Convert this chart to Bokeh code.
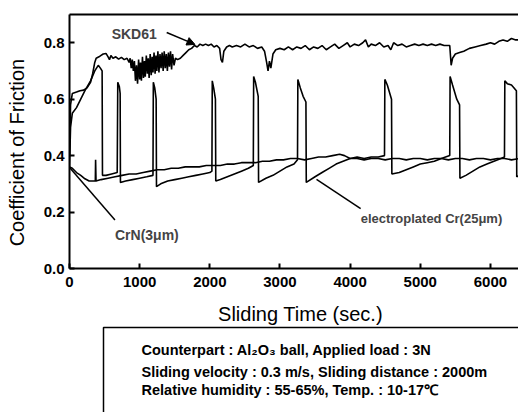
from bokeh.plotting import figure
from bokeh.models import (Range1d, FixedTicker, PrintfTickFormatter, Label, Arrow,
                          NormalHead, LinearAxis)
from bokeh.layouts import column
from bokeh.embed import file_html
from bokeh.resources import INLINE
from bokeh.core.properties import value

FONT = "Liberation Sans"

# ---------------- data ----------------
x_ticks = [0, 1000, 2000, 3000, 4000, 5000, 6000]
y_ticks = [0.0, 0.2, 0.4, 0.6, 0.8]

t_skd = [0, 15, 40, 100, 150, 200, 250, 300, 330, 360,
         380, 420, 450, 480, 520, 550, 570, 590, 620, 660,
         700, 740, 780, 820, 850, 865, 880, 895, 910, 925,
         940, 955, 970, 985, 1000, 1012, 1025, 1040, 1055, 1068,
         1080, 1095, 1110, 1122, 1135, 1150, 1165, 1178, 1190, 1205,
         1220, 1232, 1245, 1260, 1275, 1290, 1305, 1320, 1335, 1350,
         1365, 1380, 1395, 1410, 1425, 1440, 1455, 1470, 1490, 1510,
         1540, 1580, 1620, 1660, 1700, 1740, 1780, 1820, 1860, 1900,
         1940, 1980, 2020, 2060, 2100, 2140, 2160, 2180, 2200, 2240,
         2280, 2320, 2380, 2440, 2500, 2560, 2620, 2680, 2740, 2780,
         2810, 2830, 2850, 2870, 2900, 2940, 3000, 3060, 3120, 3180,
         3240, 3300, 3360, 3420, 3480, 3540, 3600, 3660, 3720, 3780,
         3840, 3900, 3960, 4000, 4060, 4120, 4180, 4220, 4260, 4300,
         4360, 4420, 4480, 4540, 4580, 4620, 4680, 4740, 4800, 4860,
         4920, 4980, 5040, 5100, 5160, 5220, 5280, 5340, 5420, 5440,
         5460, 5500, 5560, 5620, 5700, 5780, 5860, 5940, 6000, 6060,
         6120, 6180, 6240, 6300, 6360, 6420]
mu_skd = [0.40, 0.58, 0.62, 0.625, 0.63, 0.632, 0.64, 0.66, 0.69, 0.73,
          0.745, 0.75, 0.755, 0.76, 0.762, 0.75, 0.74, 0.755, 0.745, 0.75,
          0.742, 0.748, 0.74, 0.745, 0.73, 0.745, 0.71, 0.74, 0.70, 0.735,
          0.665, 0.72, 0.655, 0.74, 0.67, 0.73, 0.665, 0.75, 0.675, 0.735,
          0.68, 0.755, 0.69, 0.745, 0.675, 0.76, 0.685, 0.75, 0.695, 0.765,
          0.69, 0.755, 0.70, 0.77, 0.695, 0.76, 0.71, 0.765, 0.70, 0.77,
          0.71, 0.76, 0.70, 0.765, 0.715, 0.77, 0.705, 0.76, 0.72, 0.745,
          0.74, 0.745, 0.755, 0.765, 0.775, 0.78, 0.79, 0.785, 0.795, 0.79,
          0.795, 0.79, 0.795, 0.785, 0.79, 0.78, 0.74, 0.73, 0.77, 0.785,
          0.79, 0.785, 0.79, 0.785, 0.795, 0.785, 0.79, 0.78, 0.785, 0.77,
          0.73, 0.70, 0.735, 0.71, 0.76, 0.775, 0.78, 0.775, 0.785, 0.775,
          0.785, 0.78, 0.79, 0.775, 0.785, 0.78, 0.79, 0.775, 0.785, 0.795,
          0.78, 0.79, 0.80, 0.785, 0.795, 0.79, 0.80, 0.81, 0.785, 0.795,
          0.79, 0.80, 0.785, 0.79, 0.775, 0.80, 0.79, 0.795, 0.785, 0.79,
          0.795, 0.79, 0.795, 0.79, 0.795, 0.79, 0.795, 0.79, 0.79, 0.72,
          0.745, 0.76, 0.765, 0.77, 0.78, 0.785, 0.79, 0.795, 0.80, 0.795,
          0.805, 0.81, 0.805, 0.815, 0.81, 0.81]

t_cr = [0, 15, 40, 100, 160, 220, 300, 360, 410, 440,
        465, 470, 520, 600, 680, 688, 710, 722, 726, 800,
        900, 1000, 1100, 1190, 1195, 1215, 1235, 1240, 1300, 1400,
        1500, 1600, 1700, 1800, 1900, 2000, 2030, 2035, 2055, 2080,
        2085, 2150, 2250, 2350, 2450, 2550, 2620, 2625, 2650, 2690,
        2695, 2800, 2900, 3000, 3100, 3200, 3250, 3255, 3290, 3330,
        3370, 3375, 3500, 3600, 3700, 3800, 3900, 4000, 4100, 4200,
        4300, 4400, 4490, 4495, 4530, 4590, 4595, 4700, 4800, 4900,
        5000, 5100, 5200, 5300, 5420, 5425, 5460, 5520, 5560, 5565,
        5650, 5750, 5850, 5950, 6050, 6150, 6200, 6205, 6240, 6300,
        6370, 6375, 6420]
mu_cr = [0.36, 0.50, 0.55, 0.57, 0.60, 0.63, 0.665, 0.70, 0.72, 0.71,
         0.70, 0.33, 0.33, 0.335, 0.34, 0.66, 0.645, 0.62, 0.305, 0.31,
         0.315, 0.32, 0.325, 0.33, 0.66, 0.64, 0.60, 0.29, 0.30, 0.31,
         0.315, 0.32, 0.325, 0.33, 0.335, 0.34, 0.345, 0.665, 0.64, 0.60,
         0.31, 0.315, 0.325, 0.335, 0.345, 0.355, 0.365, 0.68, 0.66, 0.61,
         0.305, 0.32, 0.33, 0.345, 0.36, 0.37, 0.385, 0.67, 0.64, 0.61,
         0.59, 0.305, 0.325, 0.34, 0.355, 0.37, 0.38, 0.39, 0.395, 0.39,
         0.395, 0.395, 0.40, 0.67, 0.65, 0.60, 0.335, 0.34, 0.35, 0.36,
         0.37, 0.375, 0.38, 0.39, 0.40, 0.68, 0.65, 0.60, 0.58, 0.32,
         0.33, 0.345, 0.36, 0.37, 0.38, 0.39, 0.395, 0.665, 0.655, 0.65,
         0.63, 0.325, 0.33]

t_crn = [0, 40, 100, 160, 220, 280, 340, 368, 372, 378,
         450, 550, 650, 750, 850, 950, 1050, 1150, 1250, 1350,
         1450, 1550, 1650, 1750, 1850, 1950, 2050, 2150, 2250, 2350,
         2450, 2550, 2650, 2750, 2850, 2950, 3050, 3150, 3250, 3350,
         3450, 3550, 3650, 3750, 3850, 3920, 4000, 4100, 4200, 4300,
         4400, 4500, 4600, 4700, 4800, 4900, 5000, 5100, 5200, 5300,
         5400, 5500, 5600, 5700, 5800, 5900, 6000, 6100, 6200, 6300,
         6420]
mu_crn = [0.36, 0.355, 0.34, 0.33, 0.318, 0.31, 0.31, 0.31, 0.385, 0.31,
          0.315, 0.32, 0.325, 0.33, 0.335, 0.335, 0.34, 0.345, 0.35, 0.35,
          0.355, 0.355, 0.36, 0.36, 0.36, 0.365, 0.365, 0.365, 0.37, 0.37,
          0.375, 0.375, 0.375, 0.38, 0.38, 0.385, 0.385, 0.39, 0.39, 0.385,
          0.39, 0.395, 0.395, 0.40, 0.405, 0.40, 0.39, 0.39, 0.385, 0.39,
          0.39, 0.385, 0.39, 0.39, 0.385, 0.39, 0.39, 0.385, 0.39, 0.39,
          0.385, 0.39, 0.39, 0.385, 0.39, 0.39, 0.385, 0.39, 0.39, 0.385,
          0.39]

notes = ["Counterpart : Al\u2082O\u2083 ball, Applied load : 3N",
         "Sliding velocity : 0.3 m/s, Sliding distance : 2000m",
         "Relative humidity : 55-65%, Temp. : 10-17\u2103"]

# ---------------- main plot ----------------
p = figure(width=518, height=300, x_range=Range1d(0, 6400), y_range=Range1d(0, 0.9),
           output_backend="svg", toolbar_location=None,
           min_border_left=69, min_border_right=0, min_border_top=14,
           min_border_bottom=32)
p.outline_line_color = None
p.xgrid.visible = False
p.ygrid.visible = False
p.background_fill_color = "white"
p.border_fill_color = "white"

xa = p.below[0]
ya = p.left[0]
for ax in (xa, ya):
    ax.axis_line_width = 2
    ax.axis_line_color = "black"
    ax.major_tick_line_width = 2
    ax.major_tick_in = 5
    ax.major_tick_out = 0
    ax.minor_tick_line_color = None
    ax.major_label_text_font = FONT
    ax.major_label_text_font_style = "bold"
    ax.major_label_text_font_size = "15px"
    ax.major_label_text_color = "black"
xa.ticker = FixedTicker(ticks=x_ticks)
ya.ticker = FixedTicker(ticks=y_ticks)
ya.formatter = PrintfTickFormatter(format="%.1f")
xa.major_label_standoff = 8
ya.major_label_standoff = 5
ya.axis_label = "Coefficient of Friction\u00a0\u00a0\u00a0\u00a0"
ya.axis_label_text_font = FONT
ya.axis_label_text_font_style = "normal"
ya.axis_label_text_font_size = "20px"
ya.axis_label_standoff = 13
ya.axis_label_text_color = "black"

top_axis = LinearAxis(ticker=FixedTicker(ticks=[]), axis_line_width=2,
                      axis_line_color="black", major_label_text_font_size="0px",
                      major_tick_line_color=None, minor_tick_line_color=None)
p.add_layout(top_axis, "above")

for tt, mm in ((t_skd, mu_skd), (t_cr, mu_cr), (t_crn, mu_crn)):
    p.line(tt, mm, line_color="black", line_width=1.6)

p.add_layout(Label(x=601, y=0.832, text="SKD61", text_align="left", text_baseline="middle",
                   text_font=FONT, text_font_size="14px", text_font_style="bold"))
p.add_layout(Arrow(end=NormalHead(size=8, fill_color="black", line_color="black"),
                   x_start=1385, y_start=0.836, x_end=1788, y_end=0.794,
                   line_width=1.5, line_color="black"))

p.add_layout(Label(x=648, y=0.118, text="CrN(3\u03bcm)", text_align="left",
                   text_baseline="middle", text_font=FONT, text_font_size="14px",
                   text_font_style="bold"))
p.segment(x0=[7], y0=[0.356], x1=[648], y1=[0.172], line_color="black", line_width=1.5)

p.add_layout(Label(x=4150, y=0.178, text="electroplated Cr(25\u03bcm)", text_align="left",
                   text_baseline="middle", text_font=FONT, text_font_size="13px",
                   text_font_style="bold"))
p.segment(x0=[3521], y0=[0.316], x1=[4150], y1=[0.212], line_color="black", line_width=1.5)

# ---------------- x label + conditions box (pixel coordinates) ----------------
p2 = figure(width=518, height=112, x_range=Range1d(69, 518), y_range=Range1d(112, 0),
            output_backend="svg", toolbar_location=None, x_axis_type=None,
            y_axis_type=None, min_border_left=69, min_border_right=0,
            min_border_top=0, min_border_bottom=0)
p2.outline_line_color = None
p2.xgrid.visible = False
p2.ygrid.visible = False
p2.text(x=[300], y=[13], text=["Sliding Time (sec.)"], text_font=value(FONT),
        text_font_size="20px", text_align="center", text_baseline="middle",
        text_color="black")
p2.quad(left=[103], right=[700], top=[27], bottom=[300], fill_color=None,
        line_color="black", line_width=1.5)
p2.text(x=[141, 141, 141], y=[49, 71, 89.5], text=notes, text_font=value(FONT),
        text_font_size="14.5px", text_font_style="bold", text_baseline="middle",
        text_color="black")

layout = column(p, p2, spacing=0)
open("out.html", "w").write(file_html(layout, INLINE))
